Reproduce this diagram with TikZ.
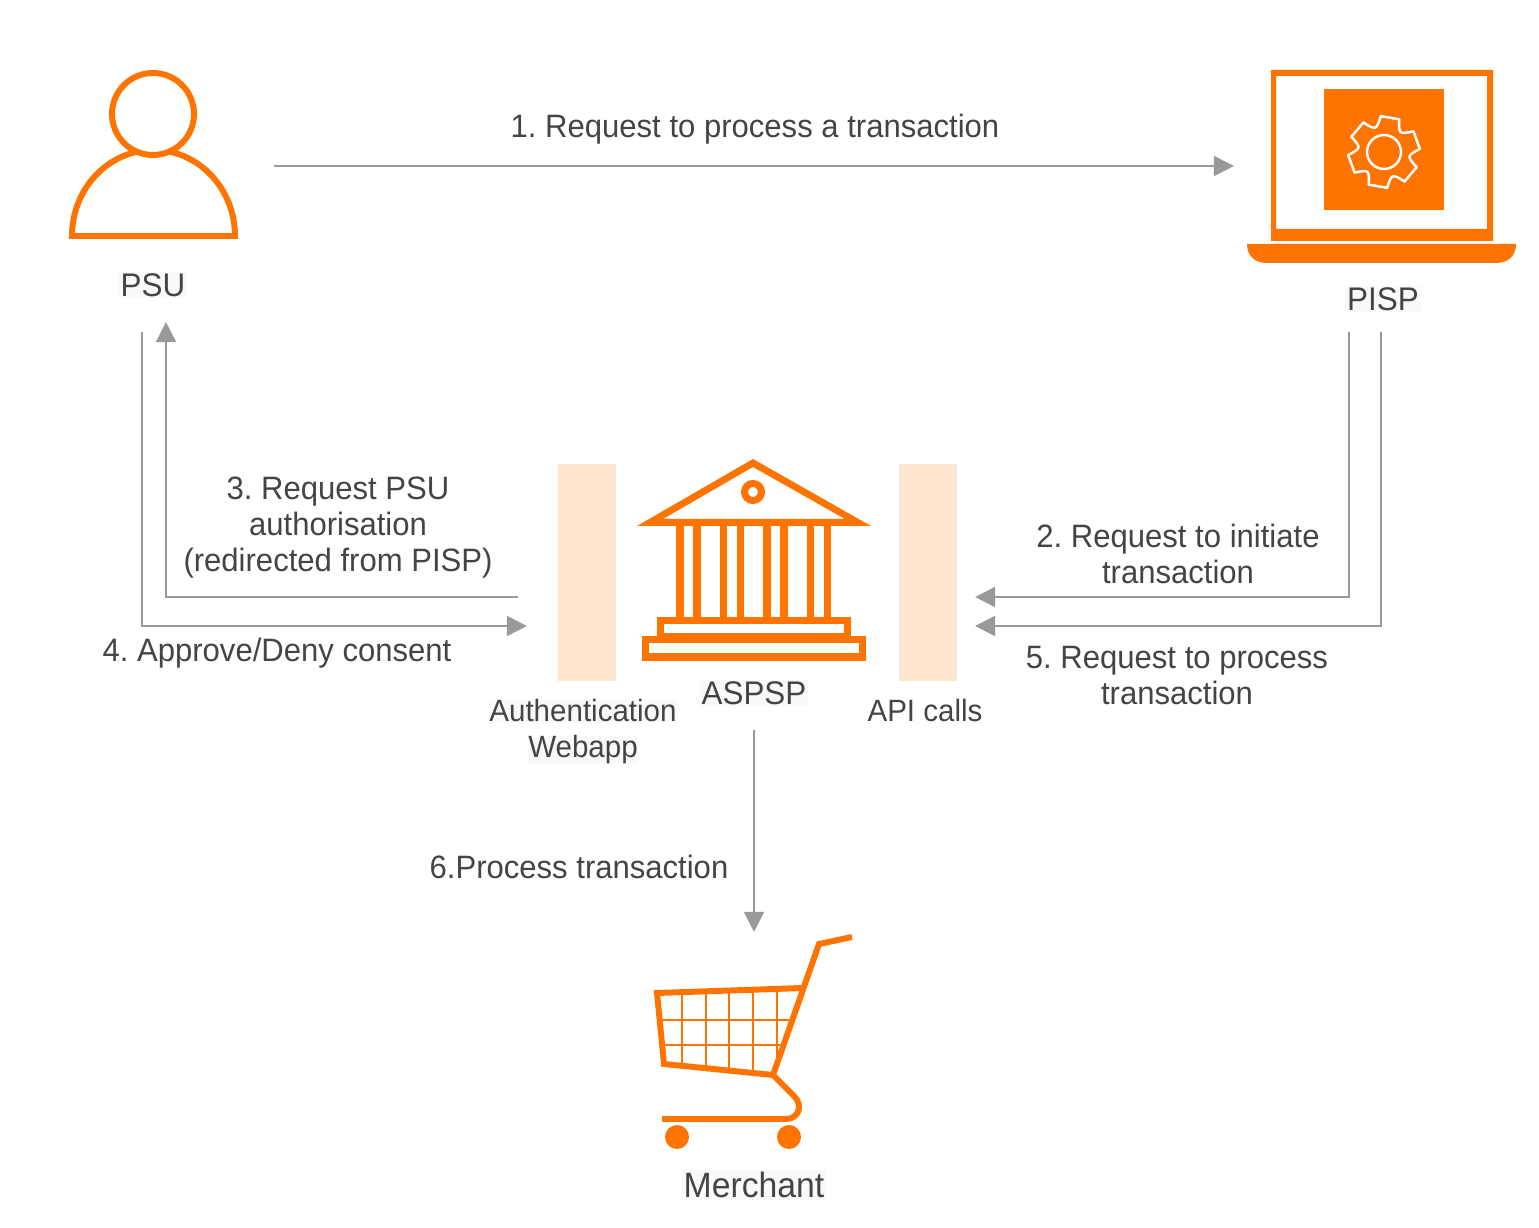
\documentclass[tikz,border=0pt]{standalone}
\usepackage{fontspec}
\setmainfont[FakeStretch=0.96]{Liberation Sans}
\frenchspacing
\usetikzlibrary{arrows.meta}
\definecolor{iconorange}{HTML}{FF7300}
\definecolor{arrowgray}{HTML}{999999}
\definecolor{textgray}{HTML}{444444}
\definecolor{panelpeach}{HTML}{FFE5CF}
\definecolor{labelback}{HTML}{F8F9FA}
\tikzset{
  flow/.style={draw=arrowgray, line width=0.75pt, -{Triangle[length=5.7pt,width=5.6pt]}},
  steptext/.style={text=textgray, align=center, inner sep=0pt, font=\fontsize{9.2}{10.25}\selectfont},
  actortext/.style={steptext, fill=labelback, inner sep=0.5pt, font=\fontsize{9.3}{10.25}\selectfont},
  sidetext/.style={steptext, font=\fontsize{8.75}{10.25}\selectfont},
  icon/.style={draw=iconorange, line width=2pt},
  cartline/.style={draw=iconorange, line width=1.7pt},
  panel/.style={fill=panelpeach}
}
\begin{document}
\begin{tikzpicture}[x=0.01cm,y=-0.01cm]

\useasboundingbox (0,0) rectangle (1539,1228);

\fill [panel] (558,464) rectangle (616,681);
\fill [panel] (899,464) rectangle (957,681);

\draw [cartline] (72,236) -- (235,236) arc [start angle=0, end angle=-180, x radius=81.5, y radius=86] -- cycle;
\draw [cartline, fill=white] (153,114) circle [radius=41];

\fill [iconorange, even odd rule] (1271,70) rectangle (1493,241) (1276,76) rectangle (1487,229);
\fill [iconorange] (1324,89) rectangle (1444,210);
\fill [iconorange] (1247,244) -- (1516,244) .. controls (1516,256) and (1508,263) .. (1496,263)
   -- (1267,263) .. controls (1255,263) and (1247,256) .. (1247,244) -- cycle;

\begin{scope}[shift={(1384,152)}, draw=white, line width=0.7pt, line cap=round]
\draw (0,0) circle [radius=17];
\foreach \a in {20,80,...,320} {
   \draw ({-\a+15}:36) -- ({-\a-15}:36);
   \draw ({-\a-15}:36) .. controls ({-\a-30}:23) .. ({-\a-45}:36);
}
\end{scope}

\fill [iconorange, even odd rule] (753,459) -- (871,526) -- (637,526) -- cycle (753,467) -- (845,519) -- (663,519) -- cycle;
\draw [icon] (753,492) circle [radius=8.5];
\foreach \cx in {688.5,732,775.5,819} {
   \draw [icon] (\cx-8.5,526) -- (\cx-8.5,617);
   \draw [icon] (\cx+8.5,526) -- (\cx+8.5,617);
}
\draw [icon] (660.5,620.5) rectangle (847.5,636.5);
\draw [icon] (645.5,639.5) rectangle (862.5,657);

\begin{scope}
\clip (657,993) -- (803,988) -- (772,1075) -- (664,1064) -- cycle;
\foreach \gx in {682,706,729,753,777}
   \draw [iconorange, line width=0.6pt] (\gx,985) -- (\gx,1080);
\foreach \gy in {1020,1045}
   \draw [iconorange, line width=0.6pt] (650,\gy) -- (810,\gy);
\end{scope}
\draw [cartline] (852,937) -- (819,944) -- (773,1075) -- (664,1064) -- (657,993) -- (803,988);
\draw [cartline] (773,1075) -- (794,1096) .. controls (804,1106) and (798,1119) .. (786,1119) -- (662,1119);
\fill [iconorange] (677,1137) circle [radius=12];
\fill [iconorange] (789,1137) circle [radius=12];

\node [actortext] (psu) at (153,285) {PSU};
\node [actortext] (pisp) at (1383,299) {PISP};
\node [actortext] (aspsp) at (754,693) {ASPSP};
\node [actortext, font=\fontsize{10}{10.25}\selectfont] (merchant) at (754,1185) {Merchant};
\node [sidetext, fill=labelback] (webapp) at (583,711) {Authentication};
\node [sidetext, fill=labelback] (webappnext) at (583,750) {Webapp};
\node [sidetext] (apicalls) at (925,711) {API calls};

\node [steptext] (stepone) at (755,129) {1. Request to process a transaction};
\node [steptext] (steptwo) at (1178,554) {2. Request to initiate\\transaction};
\node [steptext] (stepthree) at (338,528) {3. Request PSU\\authorisation\\(redirected from PISP)};
\node [steptext] (stepfour) at (277,653) {4. Approve/Deny consent};
\node [steptext] (stepfive) at (1177,676) {5. Request to process\\transaction};
\node [steptext] (stepsix) at (579,867) {6.Process transaction};

\coordinate (psuright) at (274,166);
\coordinate (pispleft) at (1234,166);
\coordinate (psuin) at (166,322);
\coordinate (psuout) at (142,332);
\coordinate (webin) at (527,626);
\coordinate (webout) at (518,597);
\coordinate (pispone) at (1349,332);
\coordinate (pisptwo) at (1381,332);
\coordinate (apione) at (975,597);
\coordinate (apitwo) at (975,626);
\coordinate (aspspout) at (754,730);
\coordinate (cartin) at (754,932);

\draw [flow] (psuright) -- (pispleft);
\draw [flow] (pispone) |- (apione);
\draw [flow] (webout) -| (psuin);
\draw [flow] (psuout) |- (webin);
\draw [flow] (pisptwo) |- (apitwo);
\draw [flow] (aspspout) -- (cartin);

\end{tikzpicture}
\end{document}
